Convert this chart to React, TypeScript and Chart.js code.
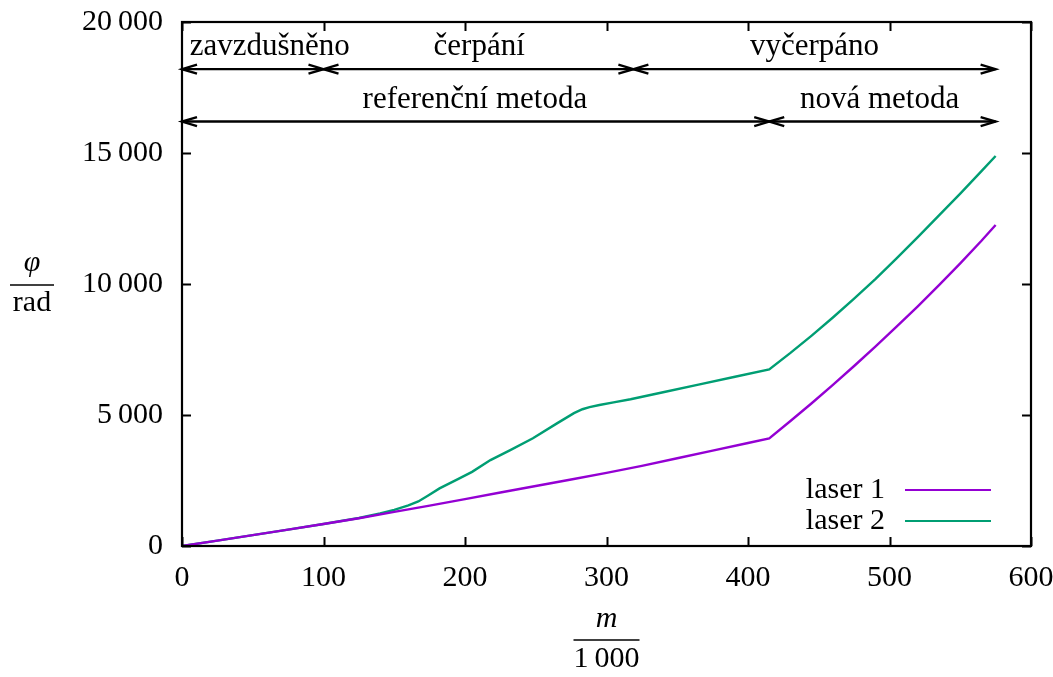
import React, { useEffect, useRef } from "react";
import { Chart, registerables } from "chart.js";

Chart.register(...registerables);

const laser1X = [0, 25, 50, 75, 100, 125, 150, 175, 200, 225, 250, 275, 300, 325, 350, 375, 400, 415, 430, 445, 460, 475, 490, 505, 520, 535, 550, 565, 575];
const laser1Y = [0, 205, 415, 625, 840, 1060, 1300, 1540, 1790, 2040, 2290, 2540, 2790, 3060, 3350, 3640, 3930, 4110, 4770, 5450, 6150, 6870, 7610, 8370, 9150, 9960, 10790, 11650, 12250];

const laser2X = [0, 25, 50, 75, 100, 125, 140, 150, 160, 167, 174, 182, 195, 205, 218, 232, 248, 265, 277, 283, 288, 295, 305, 317, 340, 365, 390, 415, 430, 445, 460, 475, 490, 505, 520, 535, 550, 565, 575];
const laser2Y = [0, 205, 415, 625, 840, 1070, 1240, 1380, 1550, 1700, 1930, 2200, 2550, 2830, 3280, 3660, 4110, 4680, 5070, 5220, 5300, 5380, 5480, 5600, 5870, 6160, 6450, 6740, 7370, 8030, 8720, 9440, 10190, 10980, 11790, 12620, 13450, 14310, 14885];

const seriesNames = ["laser 1", "laser 2"];
const seriesColors = ["#9400D3", "#009E73"];

const xTicks = [0, 100, 200, 300, 400, 500, 600];
const yTicks = [0, 5000, 10000, 15000, 20000];

// arrows: [from, to, y] in data units
const phaseArrows = [
  [0, 100, 18200],
  [100, 319, 18200],
  [319, 575, 18200],
  [0, 415, 16200],
  [415, 575, 16200],
];
const phaseLabels = [
  { text: "zavzdušněno", x: 62, y: 19050 },
  { text: "čerpání", x: 210, y: 19050 },
  { text: "vyčerpáno", x: 447, y: 19050 },
  { text: "referenční metoda", x: 207, y: 17020 },
  { text: "nová metoda", x: 493, y: 17020 },
];

const FONT = '"Liberation Serif", "Times New Roman", serif';
const FS = 30;
const FS_LAB = 31;

function fmt(v: number) {
  const s = String(Math.round(v));
  if (s.length <= 3) return s;
  return s.slice(0, s.length - 3) + "\u2009" + s.slice(s.length - 3);
}

const overlay = {
  id: "overlay",
  afterDatasetsDraw(chart: any) {
    const ctx = chart.ctx as CanvasRenderingContext2D;
    const { left, right, top, bottom } = chart.chartArea;
    const xs = chart.scales.x;
    const ys = chart.scales.y;
    ctx.save();
    ctx.strokeStyle = "#000";
    ctx.lineWidth = 2;
    const tl = 9;
    ctx.beginPath();
    for (const t of xTicks) {
      const px = Math.round(xs.getPixelForValue(t)) + 0.5;
      ctx.moveTo(px, bottom);
      ctx.lineTo(px, bottom - tl);
      ctx.moveTo(px, top);
      ctx.lineTo(px, top + tl);
    }
    for (const t of yTicks) {
      const py = Math.round(ys.getPixelForValue(t)) + 0.5;
      ctx.moveTo(left, py);
      ctx.lineTo(left + tl, py);
      ctx.moveTo(right, py);
      ctx.lineTo(right - tl, py);
    }
    ctx.stroke();
    ctx.lineWidth = 2.2;
    ctx.strokeRect(left, top, right - left, bottom - top);

    ctx.lineWidth = 2.4;
    const head = (tipX: number, y: number, dir: number) => {
      ctx.beginPath();
      ctx.moveTo(tipX - dir * 15, y - 4.5);
      ctx.lineTo(tipX, y);
      ctx.lineTo(tipX - dir * 15, y + 4.5);
      ctx.stroke();
    };
    for (const [a, b, yv] of phaseArrows) {
      const x1 = xs.getPixelForValue(a);
      const x2 = xs.getPixelForValue(b);
      const py = ys.getPixelForValue(yv);
      ctx.beginPath();
      ctx.moveTo(x1, py);
      ctx.lineTo(x2, py);
      ctx.stroke();
      head(x1, py, -1);
      head(x2, py, 1);
    }
    ctx.fillStyle = "#000";
    ctx.font = `${FS_LAB}px ${FONT}`;
    ctx.textAlign = "center";
    ctx.textBaseline = "middle";
    for (const l of phaseLabels) {
      ctx.fillText(l.text, xs.getPixelForValue(l.x), ys.getPixelForValue(l.y));
    }

    const legY = [490, 521];
    ctx.font = `${FS}px ${FONT}`;
    seriesNames.forEach((n, i) => {
      ctx.textAlign = "right";
      ctx.fillStyle = "#000";
      ctx.fillText(n, 885, legY[i]);
      ctx.strokeStyle = seriesColors[i];
      ctx.lineWidth = 2.2;
      ctx.beginPath();
      ctx.moveTo(905, legY[i]);
      ctx.lineTo(991, legY[i]);
      ctx.stroke();
    });

    ctx.strokeStyle = "#000";
    ctx.fillStyle = "#000";
    ctx.lineWidth = 1.4;
    ctx.textAlign = "center";
    ctx.font = `italic ${FS}px ${FONT}`;
    ctx.fillText("φ", 32, 263);
    ctx.beginPath();
    ctx.moveTo(10, 285);
    ctx.lineTo(54, 285);
    ctx.stroke();
    ctx.font = `${FS}px ${FONT}`;
    ctx.fillText("rad", 32, 303);

    const cx = (left + right) / 2;
    ctx.font = `italic ${FS}px ${FONT}`;
    ctx.fillText("m", cx, 619);
    ctx.beginPath();
    ctx.moveTo(cx - 33, 640);
    ctx.lineTo(cx + 33, 640);
    ctx.stroke();
    ctx.font = `${FS}px ${FONT}`;
    ctx.fillText(fmt(1000), cx, 659);
    ctx.restore();
  },
};

export default function App() {
  const ref = useRef<HTMLCanvasElement | null>(null);
  useEffect(() => {
    document.body.style.margin = "0";
    const canvas = ref.current!;
    const chart = new Chart(canvas, {
      type: "line",
      data: {
        datasets: [
          {
            label: seriesNames[0],
            data: laser1X.map((x, i) => ({ x, y: laser1Y[i] })),
            borderColor: seriesColors[0],
            borderWidth: 2.4,
            pointRadius: 0,
            tension: 0,
            fill: false,
          },
          {
            label: seriesNames[1],
            data: laser2X.map((x, i) => ({ x, y: laser2Y[i] })),
            borderColor: seriesColors[1],
            borderWidth: 2.4,
            pointRadius: 0,
            tension: 0,
            fill: false,
          },
        ],
      },
      options: {
        animation: false,
        responsive: false,
        maintainAspectRatio: false,
        events: [],
        layout: { padding: { left: 0, top: 22, right: 22, bottom: 0 } },
        plugins: { legend: { display: false }, tooltip: { enabled: false } },
        scales: {
          x: {
            type: "linear",
            min: 0,
            max: 600,
            afterBuildTicks: (s: any) => {
              s.ticks = xTicks.map((v) => ({ value: v }));
            },
            afterFit: (s: any) => {
              s.height = 131;
              s.paddingLeft = 0;
              s.paddingRight = 0;
            },
            grid: { display: false, drawTicks: false },
            border: { display: false },
            ticks: {
              color: "#000",
              font: { family: FONT, size: FS },
              padding: 14,
              maxRotation: 0,
              callback: (v: any) => fmt(Number(v)),
            },
          },
          y: {
            type: "linear",
            min: 0,
            max: 20000,
            afterBuildTicks: (s: any) => {
              s.ticks = yTicks.map((v) => ({ value: v }));
            },
            afterFit: (s: any) => {
              s.width = 182;
              s.paddingTop = 0;
              s.paddingBottom = 0;
            },
            grid: { display: false, drawTicks: false },
            border: { display: false },
            ticks: {
              color: "#000",
              font: { family: FONT, size: FS },
              padding: 19,
              callback: (v: any) => fmt(Number(v)),
            },
          },
        },
      },
      plugins: [overlay],
    } as any);
    return () => chart.destroy();
  }, []);
  return (
    <div style={{ position: "absolute", left: 0, top: 0, width: 1053, height: 677, background: "#fff" }}>
      <canvas ref={ref} width={1053} height={677} style={{ width: 1053, height: 677, display: "block" }} />
    </div>
  );
}
